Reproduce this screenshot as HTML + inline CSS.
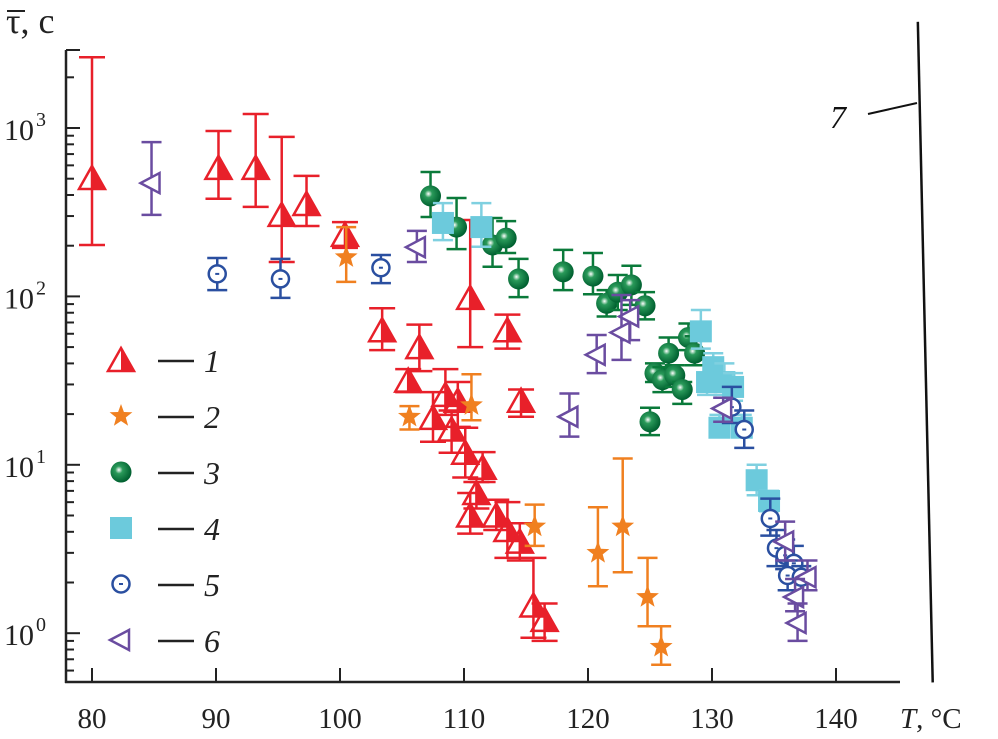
<!DOCTYPE html>
<html><head><meta charset="utf-8"><style>
body{margin:0;background:#fff}
svg{display:block}
svg text{font-family:"Liberation Serif","DejaVu Serif",serif}
</style></head><body>
<svg id="chart" width="998" height="739" viewBox="0 0 998 739" xmlns="http://www.w3.org/2000/svg" font-family="Liberation Serif, serif">
<defs>
<radialGradient id="sph" cx="0.4" cy="0.4" r="0.6"><stop offset="0" stop-color="#fff"/><stop offset="0.3" stop-color="#2a9a5a"/><stop offset="1" stop-color="#006030"/></radialGradient>
</defs>
<g id="axes"></g><g id="marks"></g><g id="legend"></g>
</svg>
<script>
// x = temperature, y = tau, lo/hi = error bar bounds
const s1T=[80,90.2,93.2,95.3,97.3,100.4,103.4,106.4,105.5,108.5,109.5,107.5,109.0,110.1,111.5,111.0,110.5,112.6,113.5,114.5,115.6,116.5,110.5,113.5,114.6];
const s1V=[505,580,580,305,354,232,63,50,31.6,26,24,19,16.2,11.8,9.6,6.8,5.0,5.0,4.1,3.5,1.46,1.2,98,63,24];
const s1Lo=[202,380,340,160,262,194,48,36,27,19.8,16.8,13.7,11.8,8.4,7.9,5.5,3.9,4.1,2.8,2.7,0.94,0.90,50,49,19.3];
const s1Hi=[2630,960,1210,885,520,276,85,68,37,37,31,27,21,16.6,11.9,7.9,6.8,6.2,6.0,4.5,2.8,1.5,284,78,28];
const s2T=[100.5,105.6,110.6,115.7,120.8,122.8,124.8,125.9];
const s2V=[171,19.3,22.6,4.3,3.0,4.3,1.64,0.83];
const s2Lo=[122,16.2,18.4,3.3,1.9,2.3,1.1,0.65];
const s2Hi=[258,22.3,34.5,5.8,5.6,10.9,2.8,1.1];
const s3T=[107.3,109.4,112.3,113.4,114.4,118.0,120.4,121.5,122.4,123.5,124.6,128.1,126.5,128.6,125.4,126.0,127.0,127.6,125.0];
const s3V=[395,258,202,222,127,140,132,91,106,117,88,57,46,46,35,32,34,28,18];
const s3Lo=[296,191,150,181,99,109,103,76,83,89,73,48,37,39,31,27,29,23,15];
const s3Hi=[548,384,292,280,167,189,181,109,134,152,106,69,57,58,40,38,39,31,21.8];
const s4T=[108.3,111.4,129.1,130.1,129.6,131.0,131.7,130.6,132.4,133.6,134.6];
const s4V=[273,258,62,38,31,31,29,16.6,16.6,8.1,6.1];
const s4Lo=[216,197,49,30,26,26,24,14.7,14.7,6.6,5.3];
const s4Hi=[358,358,83,46,34,40,35,19.8,19.8,10,7];
const s5T=[90.1,95.2,103.3,131.6,132.6,134.7,135.2,135.9,136.6,136.1,137.2];
const s5V=[136,127,148,22,16.2,4.8,3.2,2.9,2.6,2.2,2.15];
const s5Lo=[109,98,120,17.7,12.6,3.8,2.5,2.4,2.1,1.8,1.8];
const s5Hi=[169,167,176,29,21,6.3,4.1,3.6,3.3,2.7,2.5];
const s6T=[84.8,106.2,118.5,120.7,123.4,122.7,130.9,135.9,137.7,136.7,136.9];
const s6V=[471,196,19.3,45,76,61,21.6,3.5,2.15,1.64,1.15];
const s6Lo=[305,160,14.7,35,55,42,18,2.7,1.8,1.35,0.9];
const s6Hi=[825,245,26.5,59,95,102,25,4.6,2.7,2.1,1.5];
const xTicks=[80,90,100,110,120,130,140];
const yDecades=[0,1,2,3];
const line7=[[146.6,4270],[147.8,0.51]];

const NS="http://www.w3.org/2000/svg";
const FONT='Liberation Serif, serif';
const X=t=>92+(t-80)*12.4;
const Y=v=>128-(Math.log10(v)-3)*168.4;
function el(tag,attrs,parent){const e=document.createElementNS(NS,tag);for(const k in attrs)e.setAttribute(k,attrs[k]);if(tag==='text')e.setAttribute('font-family',FONT);parent.appendChild(e);return e;}
const axes=document.getElementById('axes'),marks=document.getElementById('marks'),legend=document.getElementById('legend');

let a=el('line',{x1:66,y1:50,x2:66,y2:683,stroke:'#222','stroke-width':2.5},axes);

a=el('line',{x1:65,y1:682,x2:900,y2:682,stroke:'#222','stroke-width':2.5},axes);

el('line',{x1:66,y1:50,x2:80,y2:50,stroke:'#222','stroke-width':2},axes);
xTicks.forEach(t=>{
  const tk=el('line',{x1:X(t),y1:682,x2:X(t),y2:668,stroke:'#222','stroke-width':2},axes);
  
  const tx=el('text',{x:X(t),y:728,'font-size':29,'text-anchor':'middle',fill:'#222'},axes);
  tx.textContent=t;
  
});
yDecades.forEach(d=>{
  const yy=Y(Math.pow(10,d));
  const tk=el('line',{x1:66,y1:yy,x2:80,y2:yy,stroke:'#222','stroke-width':2},axes);
  
  const tx=el('text',{x:4,y:yy+12,'font-size':30,fill:'#222'},axes);
  tx.textContent='10';
  
  const sup=el('text',{x:36,y:yy-2,'font-size':20,fill:'#222'},axes);
  sup.textContent=String(d);
  for(let m=2;m<=9;m++){const v=m*Math.pow(10,d);const y2=Y(v);if(y2<50)continue;
    const mt=el('line',{x1:66,y1:y2,x2:74,y2:y2,stroke:'#222','stroke-width':2},axes);
    }
});
for(let m=6;m<=9;m++){const y2=Y(m/10);if(y2<682){const mt=el('line',{x1:66,y1:y2,x2:74,y2:y2,stroke:'#222','stroke-width':2},axes);}}
let t=el('text',{x:6,y:33,'font-size':36,fill:'#222'},axes);t.textContent='τ, c';

el('line',{x1:7,y1:11,x2:25,y2:11,stroke:'#222','stroke-width':2},axes);
t=el('text',{x:900,y:728,'font-size':29,fill:'#222'},axes);
t.innerHTML='<tspan font-style="italic">T</tspan>, °C';

const l7=el('line',{x1:X(line7[0][0]),y1:Y(line7[0][1]),x2:X(line7[1][0]),y2:Y(line7[1][1]),stroke:'#111','stroke-width':2.5},marks);

el('line',{x1:868,y1:114,x2:917,y2:103,stroke:'#111','stroke-width':2},marks);
t=el('text',{x:830,y:128,'font-size':32,'font-style':'italic',fill:'#111'},marks);t.textContent='7';


function drawMark(type,cx,cy,g){
  if(type===1){el('path',{d:`M${cx} ${cy-12}L${cx+13} ${cy+11}L${cx} ${cy+11}Z`,fill:'#e8202a'},g);
    el('path',{d:`M${cx} ${cy-12}L${cx+13} ${cy+11}L${cx-13} ${cy+11}Z`,fill:'none',stroke:'#e8202a','stroke-width':2.5},g);}
  else if(type===2){let p='';for(let i=0;i<10;i++){const r=i%2?5:12,a=-Math.PI/2+i*Math.PI/5;p+=(i?'L':'M')+(cx+r*Math.cos(a)).toFixed(1)+' '+(cy+r*Math.sin(a)).toFixed(1);}el('path',{d:p+'Z',fill:'#f08020'},g);}
  else if(type===3){el('circle',{cx,cy,r:10.5,fill:'url(#sph)'},g);}
  else if(type===4){el('rect',{x:cx-11,y:cy-11,width:22,height:22,fill:'#6ccadc'},g);}
  else if(type===5){el('circle',{cx,cy,r:8.5,fill:'#fff',stroke:'#2a4fa0','stroke-width':2.5},g);el('line',{x1:cx-2,y1:cy,x2:cx+2,y2:cy,stroke:'#2a4fa0','stroke-width':2},g);}
  else if(type===6){el('path',{d:`M${cx-11} ${cy}L${cx+8} ${cy-10}L${cx+8} ${cy+10}Z`,fill:'#fff',stroke:'#6a4ca0','stroke-width':2.5},g);}
}
const series=[[1,s1T,s1V,s1Lo,s1Hi,'#e8202a',13],[2,s2T,s2V,s2Lo,s2Hi,'#f08020',10],[3,s3T,s3V,s3Lo,s3Hi,'#0a7a3a',10],[4,s4T,s4V,s4Lo,s4Hi,'#7fd0e0',10],[5,s5T,s5V,s5Lo,s5Hi,'#2a4fa0',10],[6,s6T,s6V,s6Lo,s6Hi,'#6a4ca0',10]];
series.forEach(([k,T,V,Lo,Hi,c,cw])=>{
  const sg=el('g',{},marks);
  
  T.forEach((tv,i)=>{
    const g=el('g',{},sg);
    
    const x=X(tv),yl=Y(Lo[i]),yh=Y(Hi[i]);
    el('line',{x1:x,y1:yh,x2:x,y2:yl,stroke:c,'stroke-width':2.5},g);
    el('line',{x1:x-cw,y1:yh,x2:x+cw,y2:yh,stroke:c,'stroke-width':2.5},g);
    el('line',{x1:x-cw,y1:yl,x2:x+cw,y2:yl,stroke:c,'stroke-width':2.5},g);
    drawMark(k,x,Y(V[i]),g);
  });
});
for(let k=1;k<=6;k++){
  const y=360+(k-1)*56;
  const g=el('g',{},legend);
  
  drawMark(k,121,y,g);
  el('line',{x1:158,y1:y+1,x2:194,y2:y+1,stroke:'#222','stroke-width':2.5},g);
  const tx=el('text',{x:204,y:y+12,'font-size':32,'font-style':'italic',fill:'#222'},g);
  tx.textContent=String(k);
}
</script>
</body></html>
